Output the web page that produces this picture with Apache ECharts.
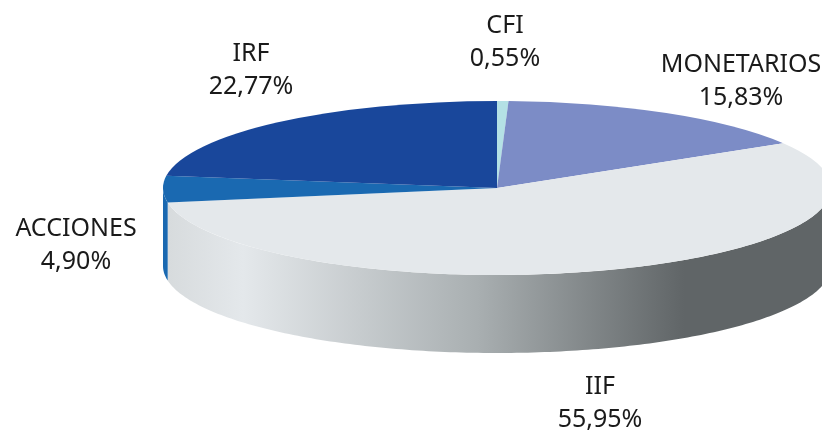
<!DOCTYPE html>
<html>
<head>
<meta charset="utf-8">
<style>html, body { margin: 0; background: #fff; } #chart { width: 822px; height: 430px; }</style>
<script src="https://cdn.jsdelivr.net/npm/echarts@6/dist/echarts.min.js"></script>
</head>
<body>
<div id="chart"></div>
<script>
'use strict';

// ---- data (clockwise from 12 o'clock) ----
const names = ['CFI', 'MONETARIOS', 'IIF', 'ACCIONES', 'IRF'];
const shares = [0.55, 15.83, 55.95, 4.90, 22.77];

// ---- styles ----
const colors = ['#b4e1e5', '#7c8cc6', '#e4e8eb', '#1a69b1', '#19479b'];
const labelAt = [[505, 42], [741, 81], [600, 403], [76, 245], [251, 70]];
const fontFamily = '"Noto Sans", "DejaVu Sans", sans-serif';

// ---- tilted disc geometry ----
const CX = 497, CY = 188, RX = 334, RY = 87, DEPTH = 78;
const wallFill = new echarts.graphic.LinearGradient(163, 0, 831, 0, [
  { offset: 0, color: '#d6dadc' },
  { offset: 0.12, color: '#e4e8eb' },
  { offset: 0.47, color: '#a9afb1' },
  { offset: 0.78, color: '#606567' },
  { offset: 1, color: '#606567' },
], true);

const pct = v => v.toFixed(2).replace('.', ',') + '%';

// canvas angle of a cumulative share, 0% sits at 12 o'clock
const toAngle = s => s / 100 * Math.PI * 2 - Math.PI / 2;

// front wall of a slice: only the part of the arc facing the viewer
function wallPoints(a0, a1) {
  const from = Math.max(a0, 0), to = Math.min(a1, Math.PI);
  if (to <= from) return null;
  const top = [], bottom = [];
  const steps = Math.ceil((to - from) * 60);
  for (let i = 0; i <= steps; i++) {
    const a = from + (to - from) * i / steps;
    const x = CX + RX * Math.cos(a), y = CY + RY * Math.sin(a);
    top.push([x, y]);
    bottom.unshift([x, y + DEPTH]);
  }
  return top.concat(bottom);
}

function renderSlice(params, api) {
  const i = params.dataIndex;
  const before = shares.slice(0, i).reduce((a, b) => a + b, 0);
  const a0 = toAngle(before), a1 = toAngle(before + api.value(0));
  const children = [];
  const pts = wallPoints(a0, a1);
  if (pts) {
    children.push({
      type: 'polygon', shape: { points: pts },
      style: { fill: names[i] === 'IIF' ? wallFill : colors[i] },
    });
  }
  children.push({
    type: 'sector',
    shape: { cx: CX, cy: CY, r: RX, r0: 0, startAngle: a0, endAngle: a1, clockwise: true },
    originX: CX, originY: CY, scaleY: RY / RX,
    style: { fill: colors[i] },
  });
  children.push({
    type: 'text', x: labelAt[i][0], y: labelAt[i][1], z2: 10,
    style: {
      text: names[i] + '\n' + pct(api.value(0)),
      fill: '#1a1a1a', font: '25px ' + fontFamily, lineHeight: 33,
      align: 'center', verticalAlign: 'middle',
    },
  });
  return { type: 'group', children };
}

const chart = echarts.init(document.getElementById('chart'));
chart.setOption({
  animation: false,
  backgroundColor: '#fff',
  series: [{
    type: 'custom',
    coordinateSystem: 'none',
    silent: true,
    clip: false,
    renderItem: renderSlice,
    data: shares.map((v, i) => ({ name: names[i], value: [v] })),
  }],
});
</script>
</body>
</html>
